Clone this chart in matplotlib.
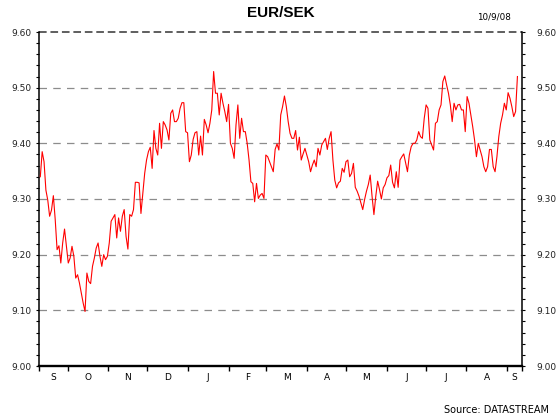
import numpy as np
import pandas as pd
import matplotlib
matplotlib.use('Agg')
import matplotlib.pyplot as plt
from matplotlib.ticker import MultipleLocator

# EUR/SEK daily fixing (Sep 2007 - Sep 2008)
eursek = [
    9.34, 9.385, 9.367, 9.316, 9.298, 9.269, 9.28, 9.306, 9.263, 9.209, 9.216, 9.185,
    9.221, 9.246, 9.215, 9.185, 9.194, 9.215, 9.197, 9.158, 9.164, 9.149, 9.131, 9.113,
    9.098, 9.167, 9.152, 9.148, 9.179, 9.194, 9.212, 9.221, 9.197, 9.179, 9.20, 9.191,
    9.197, 9.221, 9.26, 9.266, 9.272, 9.23, 9.266, 9.242, 9.269, 9.281, 9.233, 9.21,
    9.272, 9.269, 9.281, 9.33, 9.33,
    9.329, 9.274, 9.31, 9.346, 9.37, 9.385, 9.393, 9.355, 9.423, 9.391, 9.379, 9.436,
    9.391, 9.439, 9.433, 9.424, 9.406, 9.454, 9.46, 9.439, 9.439, 9.445, 9.463, 9.473,
    9.473, 9.421, 9.419, 9.367, 9.379, 9.407, 9.419, 9.421, 9.379, 9.413, 9.379, 9.443,
    9.433, 9.419, 9.436, 9.46, 9.529, 9.49, 9.49, 9.451, 9.49, 9.472, 9.457, 9.439,
    9.47, 9.40, 9.391, 9.373, 9.433, 9.469,
    9.409, 9.445, 9.421, 9.421, 9.40, 9.37, 9.331, 9.328, 9.295, 9.328, 9.301, 9.307,
    9.31, 9.301, 9.379, 9.376, 9.367, 9.358, 9.349, 9.389, 9.399, 9.388, 9.451, 9.466,
    9.485, 9.466, 9.439, 9.418, 9.409, 9.409, 9.423, 9.388, 9.411, 9.37, 9.381, 9.391,
    9.379, 9.367, 9.349, 9.361, 9.37, 9.358, 9.391, 9.379, 9.397, 9.403, 9.409, 9.389,
    9.409, 9.421, 9.37, 9.334,
    9.32, 9.329, 9.332, 9.355, 9.348, 9.367, 9.37, 9.34, 9.346, 9.364, 9.321, 9.314,
    9.305, 9.293, 9.281, 9.299, 9.314, 9.326, 9.343, 9.305, 9.272, 9.305, 9.332, 9.317,
    9.30, 9.32, 9.326, 9.338, 9.342, 9.361, 9.33, 9.32, 9.349, 9.321, 9.37, 9.376,
    9.381, 9.365, 9.349, 9.379, 9.394, 9.40, 9.40, 9.406, 9.421, 9.412, 9.409, 9.445,
    9.469, 9.463, 9.406, 9.397, 9.388, 9.436, 9.439, 9.46, 9.469, 9.511, 9.521, 9.505,
    9.49, 9.469, 9.439, 9.472, 9.46, 9.469, 9.47, 9.46, 9.46, 9.421, 9.484, 9.472,
    9.451, 9.43, 9.406, 9.376, 9.40, 9.388, 9.376, 9.358, 9.349, 9.358, 9.389, 9.389,
    9.358, 9.349, 9.376, 9.412, 9.436, 9.451, 9.472, 9.46, 9.491, 9.481, 9.466, 9.448,
    9.457, 9.52,
]
first_day = '2007-09-10'
last_day = '2008-09-09'
month_letters = ['S', 'O', 'N', 'D', 'J', 'F', 'M', 'A', 'M', 'J', 'J', 'A', 'S']
y_ticks = [9.00, 9.10, 9.20, 9.30, 9.40, 9.50, 9.60]

plt.rcParams['font.family'] = ['DejaVu Sans']

dates = pd.date_range(first_day, last_day, periods=len(eursek))
x0 = pd.Timestamp('2007-09-09')
x1 = pd.Timestamp('2008-09-12 12:00')

fig = plt.figure(figsize=(5.58, 4.18), dpi=100)
ax = fig.add_axes([39 / 558, 52 / 418, 483 / 558, 334 / 418])

ax.plot(dates, eursek, color='#ff0000', linewidth=0.8, zorder=3)
ax.set_xlim(x0, x1)
ax.set_ylim(9.0, 9.6)

for y in y_ticks[1:-1]:
    ax.axhline(y, color='#8c8c8c', linewidth=0.9, linestyle=(0, (6, 5)), zorder=1)
ax.axhline(9.6, color='#333333', linewidth=1.1, linestyle=(0, (5, 2.5)), zorder=1, clip_on=False)

ax.spines['top'].set_visible(False)
ax.spines['right'].set_visible(False)
ax.spines['left'].set_linewidth(1.1)
ax.spines['bottom'].set_linewidth(1.7)

# y axis, left
ax.set_yticks(y_ticks)
ax.set_yticklabels([f'{v:.2f}' for v in y_ticks])
ax.yaxis.set_minor_locator(MultipleLocator(0.02))
ax.tick_params(axis='y', which='both', direction='out', length=2.5, width=0.8,
               labelsize=6.5, labelcolor='#222222', pad=3)

# y axis, right
ax2 = ax.twinx()
ax2.set_ylim(9.0, 9.6)
ax2.set_yticks(y_ticks)
ax2.set_yticklabels([f'{v:.2f}' for v in y_ticks])
ax2.yaxis.set_minor_locator(MultipleLocator(0.02))
ax2.tick_params(axis='y', which='both', direction='out', length=2.5, width=0.8,
                labelsize=6.5, labelcolor='#222222', pad=8)
for side in ['top', 'bottom', 'left']:
    ax2.spines[side].set_visible(False)
ax2.spines['right'].set_linewidth(1.1)

# x axis: month boundaries as ticks, letters centred in each month
bounds = [x0] + list(pd.date_range('2007-10-01', '2008-09-01', freq='MS')) + [x1]
mids = [bounds[i] + (bounds[i + 1] - bounds[i]) / 2 for i in range(len(bounds) - 1)]
ax.set_xticks(bounds)
ax.set_xticklabels([])
ax.set_xticks(mids, minor=True)
ax.set_xticklabels(month_letters, minor=True)
ax.tick_params(axis='x', which='major', direction='out', length=3.6, width=1.0)
ax.tick_params(axis='x', which='minor', length=0, labelsize=6.5, pad=5)

fig.text(281 / 558, 1 - 13 / 418, 'EUR/SEK', ha='center', va='center',
         fontsize=11, fontweight='bold', family='Liberation Sans')
fig.text(511 / 558, 1 - 17 / 418, '10/9/08', ha='right', va='center', fontsize=6.3)
fig.text(549 / 558, 1 - 410 / 418, 'Source: DATASTREAM', ha='right', va='center', fontsize=7)

fig.savefig('out.png', dpi=100)
